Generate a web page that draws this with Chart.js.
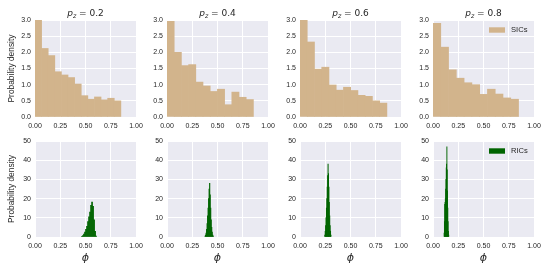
<!DOCTYPE html>
<html><head><meta charset="utf-8">
<script src="https://cdn.jsdelivr.net/npm/chart.js@4.4.0/dist/chart.umd.min.js"></script>
<style>
html,body{margin:0;padding:0;background:#fff;width:550px;height:275px;overflow:hidden;position:relative;}
canvas.c{position:absolute;}
</style></head><body>
<script>
// ---------- data ----------
const pzLabels = ['0.2', '0.4', '0.6', '0.8'];
const xTicks = [0, 0.25, 0.5, 0.75, 1.0];
const yTicksTop = [0, 0.5, 1.0, 1.5, 2.0, 2.5, 3.0];
const yTicksBottom = [0, 10, 20, 30, 40, 50];

// SICs histograms (density), bins start at 0
const sicBinWidth = [0.0654, 0.0713, 0.0717, 0.077];
const sic_pz02 = [3.0, 2.12, 1.90, 1.40, 1.30, 1.22, 1.02, 0.66, 0.55, 0.62, 0.53, 0.58, 0.50];
const sic_pz04 = [2.96, 2.00, 1.59, 1.62, 1.08, 0.96, 0.79, 0.86, 0.38, 0.77, 0.61, 0.54];
const sic_pz06 = [3.0, 2.32, 1.48, 1.54, 0.99, 0.83, 0.92, 0.82, 0.67, 0.64, 0.50, 0.43];
const sic_pz08 = [2.90, 2.16, 1.46, 1.20, 1.06, 1.00, 0.70, 0.86, 0.71, 0.59, 0.55];

// RICs histograms (density)
const ricBinStart = [0.46, 0.375, 0.244, 0.109];
const ricBinWidth = [0.01, 0.005, 0.004, 0.003];
const ric_pz02 = [0.3, 0.8, 1.5, 2.5, 4, 5.5, 8, 10.5, 13, 16.5, 18.2, 16, 9, 3, 0.5];
const ric_pz04 = [0.5, 1, 2, 4, 7, 11, 15, 20, 25, 28, 22, 15, 9, 5, 2.5, 1, 0.5];
const ric_pz06 = [1, 3, 6, 10, 15, 20, 26, 32, 38, 33, 26, 18, 11, 6, 3, 1];
const ric_pz08 = [2, 8, 17, 18, 20, 25, 30, 36, 38, 47, 35, 24, 15, 8, 3, 1];

const sicSeries = [sic_pz02, sic_pz04, sic_pz06, sic_pz08];
const ricSeries = [ric_pz02, ric_pz04, ric_pz06, ric_pz08];

// ---------- layout ----------
const plotLeft = [35, 167, 300, 433];
const PW = 101, YW = 35, RP = 14;
const SANS = "'Liberation Sans', Arial, sans-serif";
const DJ = "'DejaVu Sans', sans-serif";
const TXT = '#262626';

const bgPlugin = {
  id: 'bg',
  beforeDraw(chart) {
    const a = chart.chartArea, ctx = chart.ctx;
    ctx.save(); ctx.fillStyle = '#EAEAF2';
    ctx.fillRect(a.left, a.top, a.right - a.left, a.bottom - a.top);
    ctx.restore();
  }
};

function textPlugin(row, col) {
  return {
    id: 'txt',
    afterDraw(chart) {
      const a = chart.chartArea, ctx = chart.ctx;
      const cx = (a.left + a.right) / 2;
      ctx.save();
      ctx.fillStyle = TXT;
      if (row === 0) {
        // title p_z = x
        const f1 = 'italic 9px ' + DJ, f2 = 'italic 6.3px ' + DJ, f3 = '9px ' + DJ;
        const rest = ' = ' + pzLabels[col];
        ctx.font = f1; const w1 = ctx.measureText('p').width;
        ctx.font = f2; const w2 = ctx.measureText('z').width;
        ctx.font = f3; const w3 = ctx.measureText(rest).width;
        let x = cx - (w1 + w2 + w3) / 2;
        const by = 16;
        ctx.textBaseline = 'alphabetic'; ctx.textAlign = 'left';
        ctx.font = f1; ctx.fillText('p', x, by); x += w1;
        ctx.font = f2; ctx.fillText('z', x, by + 2); x += w2;
        ctx.font = f3; ctx.fillText(rest, x, by);
      }
      if (row === 1) {
        ctx.font = 'italic 11px ' + DJ;
        ctx.textAlign = 'center'; ctx.textBaseline = 'middle';
        ctx.fillText('\u03D5', cx, 128);
      }
      if (col === 0) {
        ctx.save();
        ctx.translate(12, (a.top + a.bottom) / 2);
        ctx.rotate(-Math.PI / 2);
        ctx.font = '8.4px ' + SANS;
        ctx.textAlign = 'center'; ctx.textBaseline = 'middle';
        ctx.fillText('Probability density', 0, 0);
        ctx.restore();
      }
      if (col === 3) {
        const ly = a.top + 10;
        ctx.fillStyle = row === 0 ? '#D2B48C' : '#006400';
        ctx.fillRect(a.left + 56, ly - 2.7, 16, 5.4);
        ctx.fillStyle = TXT;
        ctx.font = '7.6px ' + SANS;
        ctx.textAlign = 'left'; ctx.textBaseline = 'middle';
        ctx.fillText(row === 0 ? 'SICs' : 'RICs', a.left + 78, ly);
      }
      ctx.restore();
    }
  };
}

function makeChart(row, col) {
  const W = YW + PW + RP;
  const H = row === 0 ? 135 : 145;
  const top = row === 0 ? 0 : 130;
  const canvas = document.createElement('canvas');
  canvas.className = 'c';
  canvas.width = W; canvas.height = H;
  canvas.style.width = W + 'px'; canvas.style.height = H + 'px';
  canvas.style.left = (plotLeft[col] - YW) + 'px';
  canvas.style.top = top + 'px';
  document.body.appendChild(canvas);

  const vals = row === 0 ? sicSeries[col] : ricSeries[col];
  const start = row === 0 ? 0 : ricBinStart[col];
  const bw = row === 0 ? sicBinWidth[col] : ricBinWidth[col];
  const pts = vals.map((v, i) => ({ x: start + bw * (i + 0.5), y: v }));
  const yt = row === 0 ? yTicksTop : yTicksBottom;

  const tickFont = { family: SANS, size: 7 };
  new Chart(canvas, {
    type: 'bar',
    data: { datasets: [{
      data: pts,
      backgroundColor: row === 0 ? '#D2B48C' : '#006400',
      borderWidth: 0,
      barPercentage: 1, categoryPercentage: 1,
      clip: 0
    }]},
    options: {
      responsive: false, animation: false, devicePixelRatio: 1,
      layout: { padding: { top: row === 0 ? 20 : 11, right: RP, left: 0, bottom: 0 } },
      plugins: { legend: { display: false }, tooltip: { enabled: false }, title: { display: false } },
      scales: {
        x: {
          type: 'linear', min: 0, max: 1, offset: false,
          grid: { offset: false, color: '#ffffff', lineWidth: 1, drawTicks: false },
          border: { display: false },
          afterBuildTicks: s => { s.ticks = xTicks.map(v => ({ value: v })); },
          ticks: { padding: 5, font: tickFont, color: TXT, autoSkip: false, maxRotation: 0,
                   callback: v => Number(v).toFixed(2) },
          afterFit: s => { s.height = row === 0 ? 18 : 38; }
        },
        y: {
          type: 'linear', min: 0, max: yt[yt.length - 1],
          grid: { color: '#ffffff', lineWidth: 1, drawTicks: false },
          border: { display: false },
          afterBuildTicks: s => { s.ticks = yt.map(v => ({ value: v })); },
          ticks: { padding: 4, font: tickFont, color: TXT, autoSkip: false,
                   callback: v => row === 0 ? Number(v).toFixed(1) : String(v) },
          afterFit: s => { s.width = YW; }
        }
      }
    },
    plugins: [bgPlugin, textPlugin(row, col)]
  });
}

for (let r = 0; r < 2; r++) for (let c = 0; c < 4; c++) makeChart(r, c);
</script>
</body></html>
